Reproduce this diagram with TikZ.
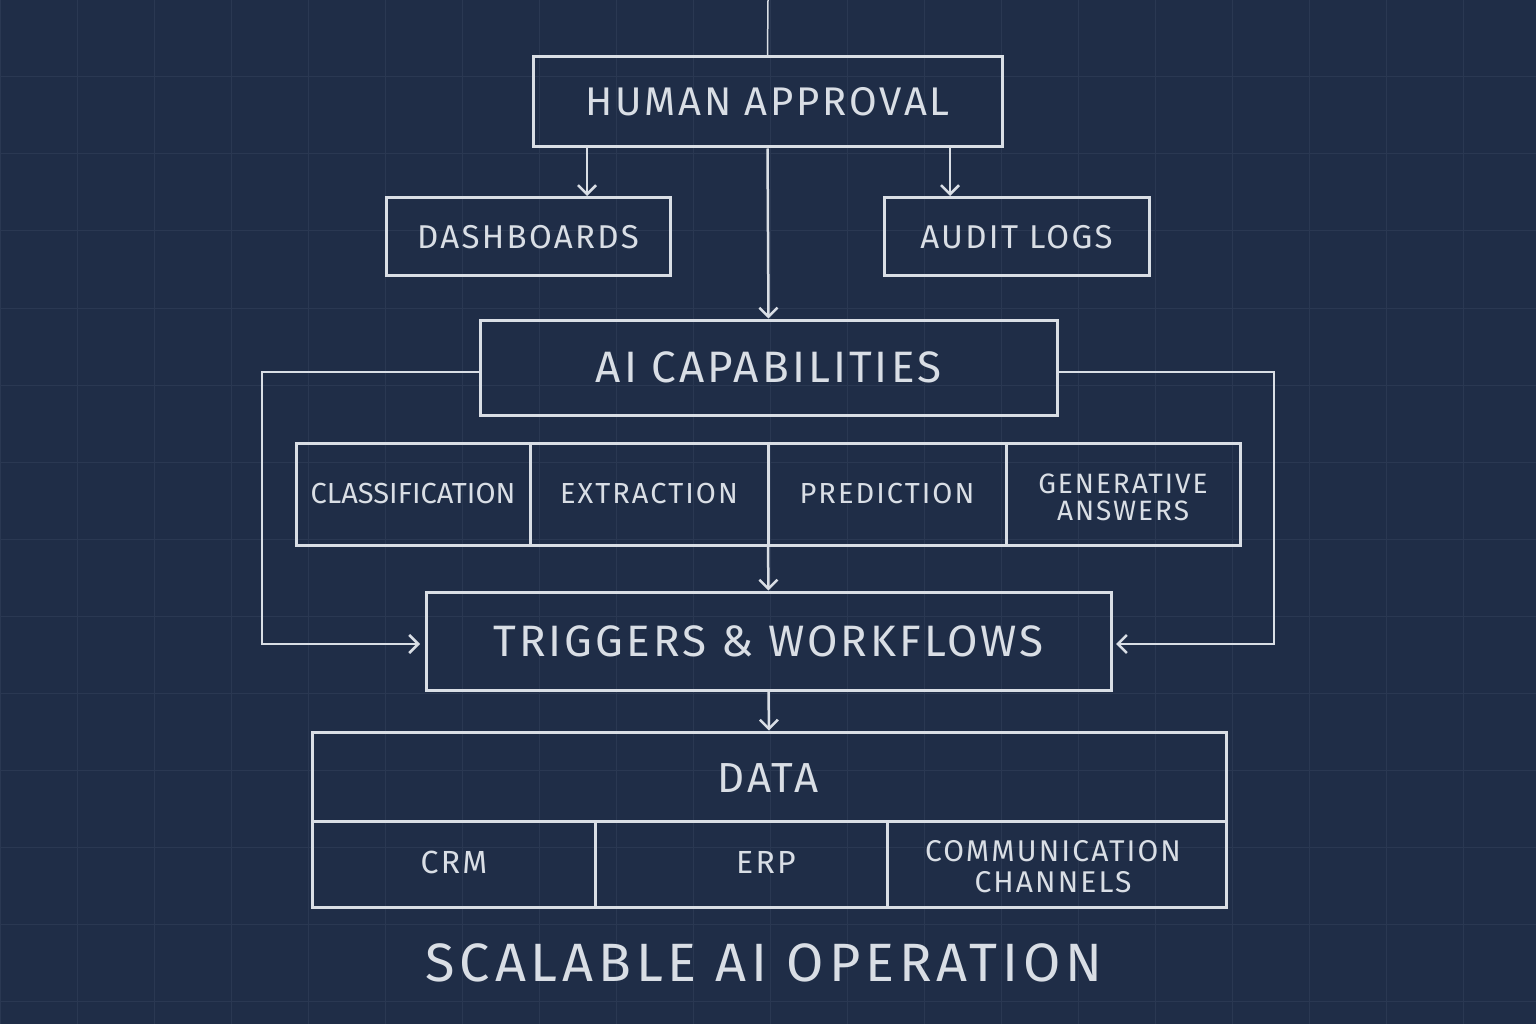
\documentclass[tikz,border=0pt]{standalone}
\usepackage{fontspec}
\setmainfont{Fira Sans}[LetterSpace=7]
\usetikzlibrary{arrows.meta}
\definecolor{bg}{HTML}{1F2D47}
\definecolor{gridc}{HTML}{2A3852}
\definecolor{ln}{HTML}{D9DEE5}
\begin{document}
\begin{tikzpicture}[x=1pt,y=-1pt,
  bx/.style={draw=ln,line width=3pt,rectangle,inner sep=0,text=ln,align=center},
  cell/.style={rectangle,inner sep=0,text=ln,align=center,font=\fontsize{29}{29}\selectfont},
  arr/.style={draw=ln,line width=2.5pt,-{Straight Barb[length=9pt,width=18pt,line width=2.5pt]}},
  wire/.style={draw=ln,line width=2.5pt}]
\fill[bg] (0,0) rectangle (1536,1024);
\useasboundingbox (0,0) rectangle (1536,1024);
\foreach \i in {0,77,...,1536} \draw[gridc,line width=1pt] (\i,0) -- (\i,1024);
\foreach \j in {0,77,...,1024} \draw[gridc,line width=1pt] (0,\j) -- (1536,\j);
% nodes
\node[bx,minimum width=469pt,minimum height=90pt,font=\fontsize{40}{40}\selectfont] (ha) at (767.5,102) {HUMAN APPROVAL};
\coordinate (top) at (768,0);
\node[bx,minimum width=284pt,minimum height=78pt,font=\fontsize{33}{33}\selectfont] (db) at (528,237) {DASHBOARDS};
\node[bx,minimum width=265pt,minimum height=78pt,font=\fontsize{33}{33}\selectfont] (al) at (1016.5,237) {AUDIT LOGS};
\node[bx,minimum width=577pt,minimum height=95pt,font=\fontsize{44}{44}\selectfont] (ai) at (768.5,367.5) {AI CAPABILITIES};
\node[bx,minimum width=944pt,minimum height=102pt] (row) at (768,494) {};
\draw[ln,line width=3pt] (530,443) -- (530,545) (768,443) -- (768,545) (1006,443) -- (1006,545);
\node[cell] (c1) at (413,494) {\addfontfeature{LetterSpace=0}\fontsize{29}{29}\selectfont CLASSIFICATION};
\node[cell] (c2) at (649,494) {EXTRACTION};
\node[cell] (c3) at (887,494) {PREDICTION};
\node[cell,font=\fontsize{28}{27}\selectfont] (c4) at (1123,497) {GENERATIVE\\ANSWERS};
\node[bx,minimum width=685pt,minimum height=98pt,font=\fontsize{44}{44}\selectfont] (tw) at (768.5,641) {TRIGGERS \& WORKFLOWS};
\node[bx,minimum width=914pt,minimum height=175pt] (data) at (769,819.5) {};
\draw[ln,line width=3pt] (312,821) -- (1226,821) (595,821) -- (595,907) (887,821) -- (887,907);
\node[cell,font=\fontsize{42}{42}\selectfont] (dt) at (768,778) {DATA};
\node[cell,font=\fontsize{32}{32}\selectfont] (crm) at (454,862) {CRM};
\node[cell,font=\fontsize{32}{32}\selectfont] (erp) at (766,862) {ERP};
\node[cell,font=\fontsize{30}{31}\selectfont] (cc) at (1053,867) {COMMUNICATION\\CHANNELS};
\node[text=ln,font=\fontsize{54}{54}\selectfont\addfontfeature{LetterSpace=9}] (title) at (764,963) {SCALABLE AI OPERATION};
\coordinate (lt) at (262,644);
\coordinate (rt) at (1274,644);
% connectors
\draw[ln,line width=1.5pt] (top) -- (ha.north);
\draw[arr] (587,147) -- (587,196);
\draw[arr] (950,147) -- (950,196);
\draw[arr] (ha.south) -- (ai.north);
\draw[arr] (row.south) -- (tw.north);
\draw[arr] (tw.south) -- (data.north);
\draw[arr] (ai.west |- 0,372) -- (262,372) -- (lt) -- (420,644);
\draw[arr] (ai.east |- 0,372) -- (1274,372) -- (rt) -- (1116,644);
\end{tikzpicture}
\end{document}
